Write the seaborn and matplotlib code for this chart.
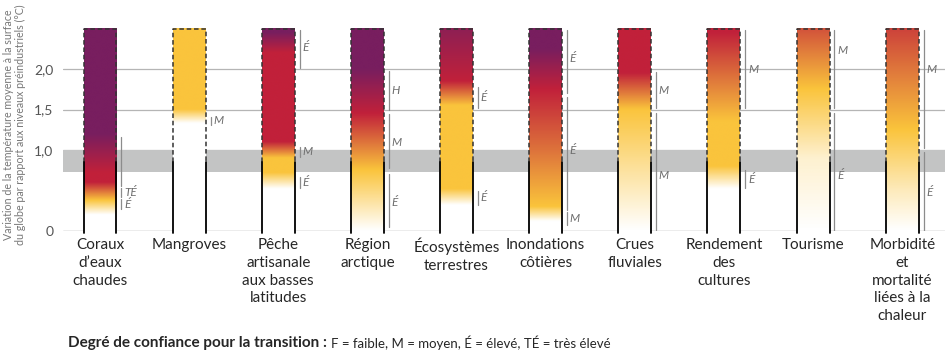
"""
Risques liés au réchauffement pour des systèmes choisis (barres en dégradé)
"""

import matplotlib
matplotlib.use("Agg")
import matplotlib.pyplot as plt
import seaborn as sns
import numpy as np
from matplotlib.colors import LinearSegmentedColormap

categories = ["Coraux\nd’eaux\nchaudes", "Mangroves",
              "Pêche\nartisanale\naux basses\nlatitudes", "Région\narctique",
              "Écosystèmes\nterrestres", "Inondations\ncôtières",
              "Crues\nfluviales", "Rendement\ndes\ncultures", "Tourisme",
              "Morbidité\net\nmortalité\nliées à la\nchaleur"]

# niveau de risque : 0 = non détectable, 1 = modéré, 2 = élevé, 3 = très élevé
risk_temps = [
    [0.0, 0.2, 0.38, 0.6, 0.72, 1.2, 2.5],
    [0.0, 1.33, 1.5, 2.5],
    [0.0, 0.52, 0.72, 0.9, 1.1, 2.2, 2.45, 2.5],
    [0.0, 0.75, 1.45, 2.0, 2.5],
    [0.0, 0.32, 0.52, 1.55, 1.85, 2.5],
    [0.0, 0.12, 0.3, 1.0, 1.75, 2.25, 2.5],
    [0.0, 1.5, 1.95, 2.5],
    [0.0, 0.52, 0.8, 1.35, 2.45, 2.5],
    [0.0, 0.9, 1.75, 2.5],
    [0.0, 0.5, 1.25, 2.5],
]
risk_levels = [
    [0, 0, 1, 2, 2, 3, 3],
    [0, 0, 1, 1],
    [0, 0, 1, 1, 2, 2, 3, 3],
    [0, 1, 2, 3, 3],
    [0, 0, 1, 1, 2, 2.7],
    [0, 0, 1, 1.5, 2, 3, 3],
    [0, 1, 2, 2],
    [0, 0, 1, 1, 2, 2],
    [0, 0.25, 1, 1.7],
    [0, 0.35, 1, 1.8],
]

# degré de confiance : (début, fin, libellé, position du libellé)
confidence = [
    [(0.55, 1.16, "", 0), (0.42, 0.53, "TÉ", 0.47), (0.27, 0.40, "É", 0.33)],
    [(1.31, 1.41, "M", 1.36)],
    [(2.01, 2.48, "É", 2.26), (0.91, 1.04, "M", 0.98), (0.53, 0.67, "É", 0.6)],
    [(1.5, 1.98, "H", 1.74), (0.78, 1.45, "M", 1.09), (0.05, 0.7, "É", 0.35)],
    [(1.52, 1.78, "É", 1.65), (0.32, 0.5, "É", 0.41)],
    [(1.7, 2.48, "É", 2.13), (0.26, 1.65, "É", 1.0), (0.07, 0.23, "M", 0.15)],
    [(1.52, 1.96, "M", 1.74), (0.01, 1.46, "M", 0.69)],
    [(1.52, 2.48, "M", 1.99), (0.53, 0.75, "É", 0.64)],
    [(1.52, 2.48, "M", 2.23), (0.0, 1.46, "É", 0.69)],
    [(1.02, 2.48, "M", 1.99), (0.0, 0.98, "É", 0.48)],
]

top_temp = 2.5
observed_max = 0.85
band_lo, band_hi = 0.73, 1.0
yticks = [0, 1.0, 1.5, 2.0]
ytick_labels = ["0", "1,0", "1,5", "2,0"]

sns.set_style("white")
plt.rcParams['font.family'] = ['Lato', 'DejaVu Sans']

cmap = LinearSegmentedColormap.from_list(
    "risk", [(0, "#ffffff"), (1 / 3, "#fac43c"), (2 / 3, "#c1213a"), (1, "#781e5f")])

fig = plt.figure(figsize=(9.47, 3.55), dpi=100)
ax = fig.add_axes([63 / 947, 1 - 231 / 355, 882 / 947, (231 - 24.5) / 355])

for y in yticks[1:]:
    ax.axhline(y, color='#b5b5b5', lw=0.9, zorder=0)
ax.axhline(0, color='#a0a0a0', lw=1.0, zorder=0.5)
ax.axhspan(band_lo, band_hi, color='#c3c4c4', lw=0, zorder=1)

w = 0.37
zs = np.linspace(0, top_temp, 400)
for i in range(len(categories)):
    lev = np.interp(zs, risk_temps[i], risk_levels[i])
    ax.imshow(lev[:, None], extent=[i - w / 2, i + w / 2, 0, top_temp],
              origin='lower', cmap=cmap, vmin=0, vmax=3, aspect='auto',
              interpolation='bilinear', zorder=2)
    l, r = i - w / 2, i + w / 2
    ax.plot([l, l, r, r], [observed_max, top_temp, top_temp, observed_max],
            color='#333333', lw=1.1, ls=(0, (3, 1.8)), zorder=3, clip_on=False)
    for x in (l, r):
        ax.plot([x, x], [-0.02, observed_max], color='black', lw=1.3, zorder=3,
                clip_on=False)
    for lo, hi, lab, ly in confidence[i]:
        ax.plot([r + 0.055] * 2, [lo, hi], color='#8c8c8c', lw=0.9, zorder=3)
        if lab:
            ax.text(r + 0.085, ly, lab, style='italic', color='#6e6e6e',
                    fontsize=8.5, va='center', ha='left', zorder=4)

ax.set_xlim(-0.415, 9.48)
ax.set_ylim(0, 2.55)
ax.set_yticks(yticks, ytick_labels)
ax.set_xticks(range(len(categories)), categories)
ax.tick_params(axis='y', length=0, pad=7, labelcolor='#555555', labelsize=10)
ax.tick_params(axis='x', length=0, pad=5, labelsize=11)
for t in ax.get_xticklabels():
    t.set_linespacing(1.35)
for s in ax.spines.values():
    s.set_visible(False)

fig.text(0.0155, 0.648,
         "Variation de la température moyenne à la surface\n"
         "du globe par rapport aux niveaux préindustriels (°C)",
         rotation=90, ha='center', va='center', fontsize=7.7,
         color='#777777', linespacing=1.1)

bold = fig.text(68 / 947, 0.034, "Degré de confiance pour la transition :",
                fontweight='bold', fontsize=11, va='center', ha='left')
fig.canvas.draw()
bb = bold.get_window_extent()
fig.text((bb.x1 + 4) / 947, 0.034,
         "F = faible, M = moyen, É = élevé, TÉ = très élevé",
         fontsize=9.5, va='center', ha='left')

fig.savefig('out.png', dpi=100)
